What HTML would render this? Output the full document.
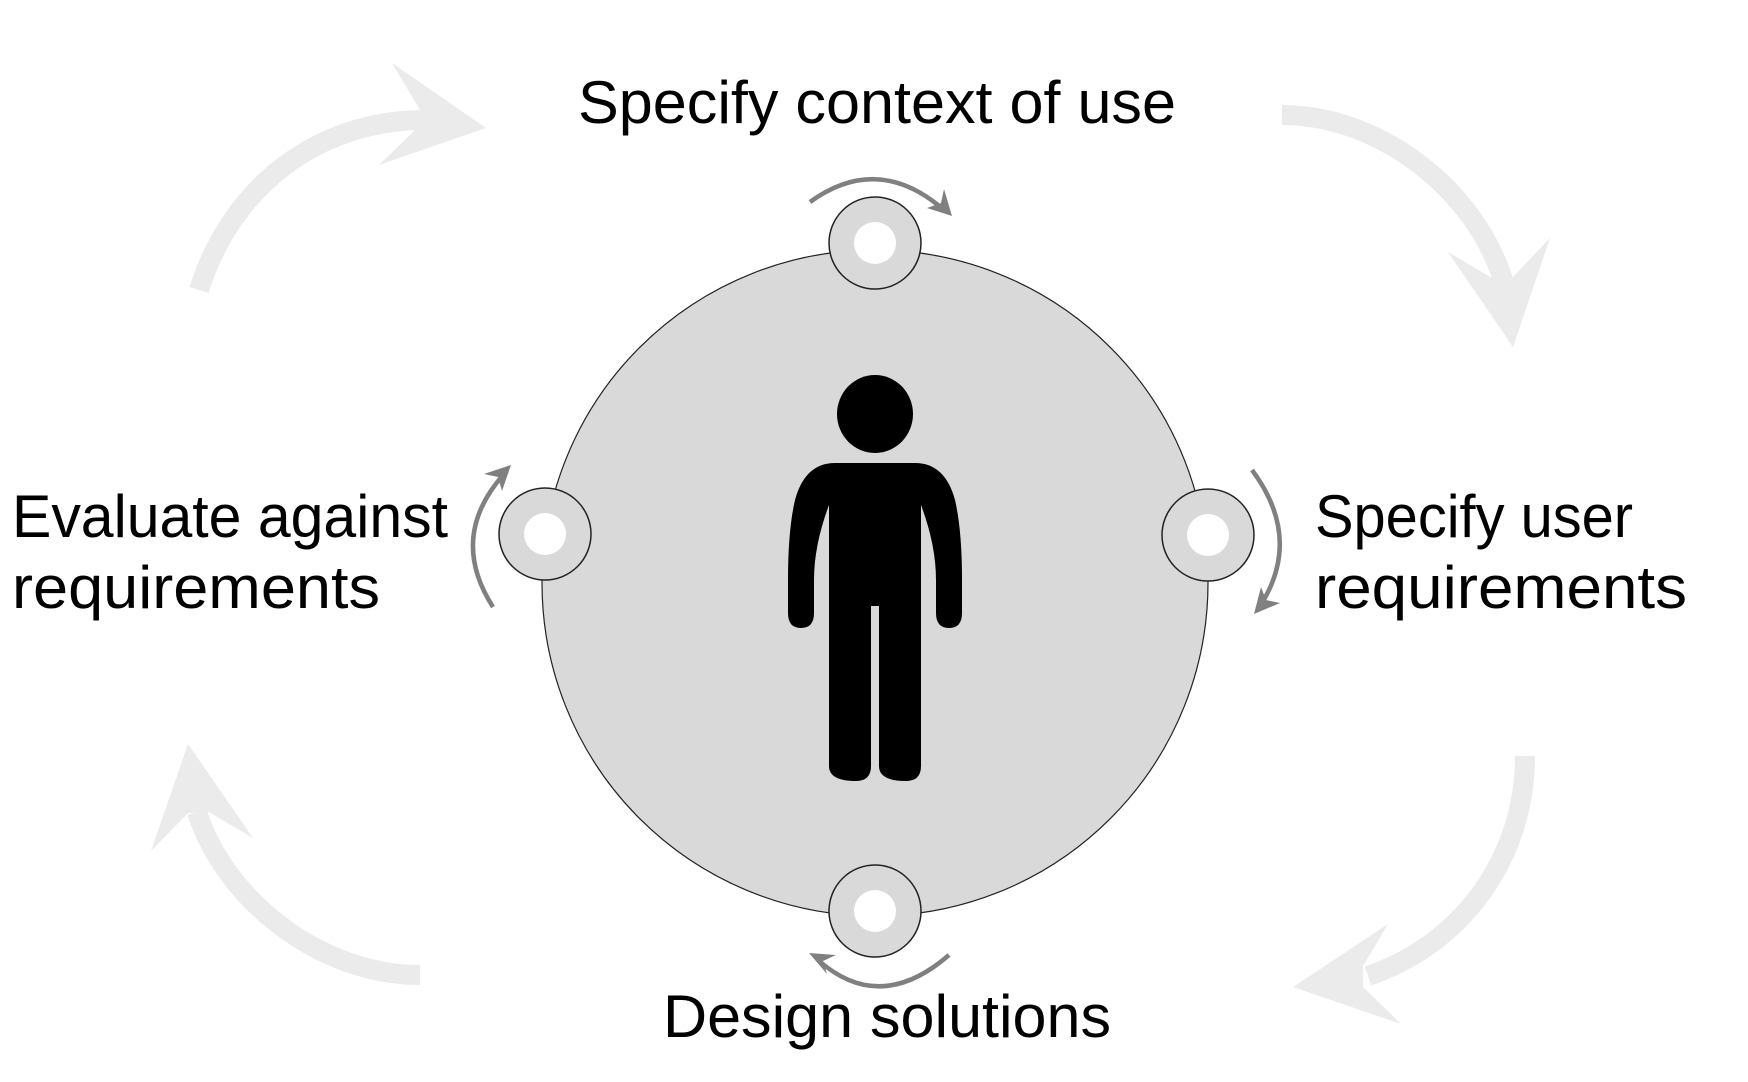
<!DOCTYPE html>
<html><head><meta charset="utf-8"><style>
html,body{margin:0;padding:0;background:#fff;}
svg{display:block;}
text{font-family:"Liberation Sans",sans-serif;font-size:60px;fill:#000;}
</style></head><body>
<svg width="1748" height="1082" viewBox="0 0 1748 1082" xmlns="http://www.w3.org/2000/svg">
<!-- big light arrows -->
<g fill="none" stroke="#ebebeb" stroke-width="20">
<path d="M199,290 C232,185 318,122 420,120"/>
<path d="M1282,115 C1380,115 1475,190 1503,280"/>
<path d="M1525,756 C1525,860 1460,945 1368,976"/>
<path d="M420,975 C320,975 225,900 197,812"/>
</g>
<g fill="#ebebeb">
<polygon points="486,128 392,63 420,110 415,130 379,165"/>
<polygon points="1513,347 1448,252 1492,278 1513,277 1550,238"/>
<polygon points="1293,987 1388,924 1363,966 1363,987 1401,1024"/>
<polygon points="188,744 151,851 188,813 209,812 253,838"/>
</g>
<!-- main circle -->
<circle cx="875" cy="583" r="333" fill="#d9d9d9" stroke="#222" stroke-width="1.2"/>
<!-- small circles -->
<g fill="#d9d9d9" stroke="#222" stroke-width="1.5">
<circle cx="875" cy="243" r="46"/>
<circle cx="545" cy="534" r="46"/>
<circle cx="1208" cy="535" r="46"/>
<circle cx="875" cy="911" r="46"/>
</g>
<g fill="#fff">
<circle cx="875" cy="243" r="21"/>
<circle cx="545" cy="534" r="21"/>
<circle cx="1208" cy="535" r="21"/>
<circle cx="875" cy="911" r="21"/>
</g>
<!-- small gray arrows -->
<g fill="none" stroke="#808080" stroke-width="4.5">
<path d="M810,202 Q875,155 938,205"/>
<path d="M1252,470 Q1302,537 1262,603"/>
<path d="M493,607 Q448,537 504,474"/>
<path d="M949,955 Q880,1015 818,960"/>
</g>
<g fill="#808080">
<polygon points="952,216 944,189 941,203 927,208"/>
<polygon points="1254,614 1280,603 1266,600 1261,587"/>
<polygon points="511,465 484,474 498,477 502,491"/>
<polygon points="809,953 827,974 823,961 836,955"/>
</g>
<!-- person -->
<g fill="#000">
<ellipse cx="875" cy="414" rx="38" ry="39"/>
<path d="M835,463 L915,463 Q945,463 955,500 Q962,530 962,580 L962,613 Q962,628 949,628 Q936,628 936,613 L936,580 Q936,545 921,505 L921,766 Q921,781 906,781 Q879,781 879,766 L879,606 L871,606 L871,766 Q871,781 856,781 Q829,781 829,766 L829,505 Q814,545 814,580 L814,613 Q814,628 801,628 Q788,628 788,613 L788,580 Q788,530 795,500 Q805,463 835,463 Z"/>
</g>
<!-- labels -->
<text x="578" y="123" textLength="598" lengthAdjust="spacingAndGlyphs">Specify context of use</text>
<text x="12" y="537" textLength="436" lengthAdjust="spacingAndGlyphs">Evaluate against</text>
<text x="12" y="608" textLength="368" lengthAdjust="spacingAndGlyphs">requirements</text>
<text x="1315" y="537" textLength="318" lengthAdjust="spacingAndGlyphs">Specify user</text>
<text x="1315" y="608" textLength="372" lengthAdjust="spacingAndGlyphs">requirements</text>
<text x="663" y="1037" textLength="448" lengthAdjust="spacingAndGlyphs">Design solutions</text>
</svg>
</body></html>
